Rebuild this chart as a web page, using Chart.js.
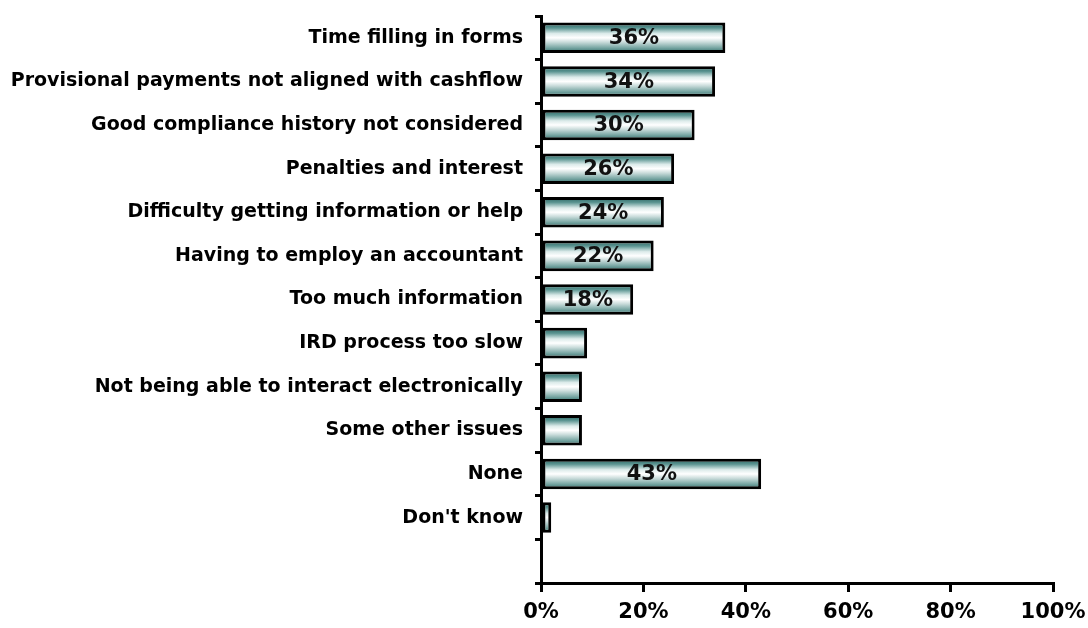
<!DOCTYPE html>
<html lang="en">
<head>
    <meta charset="UTF-8">
    <title>Compliance issues</title>
    <script src="https://cdn.jsdelivr.net/npm/chart.js"></script>
    <style>
        body {
            margin: 0;
            padding: 0;
            background-color: #ffffff;
        }

        .chart-box {
            position: relative;
            width: 1088px;
            height: 628px;
        }
    </style>
</head>
<body>
    <div class="chart-box">
        <canvas id="issuesChart"></canvas>
    </div>

    <script>
        // Survey answers, top to bottom. The last slot is left blank on purpose.
        const categories = [
            'Time filling in forms',
            'Provisional payments not aligned with cashflow',
            'Good compliance history not considered',
            'Penalties and interest',
            'Difficulty getting information or help',
            'Having to employ an accountant',
            'Too much information',
            'IRD process too slow',
            'Not being able to interact electronically',
            'Some other issues',
            'None',
            "Don't know",
            ''
        ];
        const percentages = [36, 34, 30, 26, 24, 22, 18, 9, 8, 8, 43, 2, null];
        const xTicks = [0, 20, 40, 60, 80, 100];

        // bars shorter than this don't get a value label
        const labelMin = 15;
        const fontFamily = '"DejaVu Sans", Verdana, sans-serif';

        // Each bar gets its own vertical teal-white-teal shading
        function barGradient(context) {
            const chart = context.chart;
            const yScale = chart.scales.y;
            if (!yScale || !chart.chartArea) {
                return '#9cc3c0';
            }
            const ds = context.dataset;
            const slot = yScale.height / categories.length;
            const half = slot * ds.barPercentage * ds.categoryPercentage / 2;
            const cy = yScale.getPixelForValue(context.dataIndex);
            const g = chart.ctx.createLinearGradient(0, cy - half, 0, cy + half);
            g.addColorStop(0, '#22605c');
            g.addColorStop(0.18, '#5c9592');
            g.addColorStop(0.36, '#dcebea');
            g.addColorStop(0.5, '#ffffff');
            g.addColorStop(0.64, '#cadcdb');
            g.addColorStop(0.82, '#7ba8a5');
            g.addColorStop(1, '#2c6b67');
            return g;
        }

        // Writes the percentage in the middle of each long enough bar
        const valueLabels = {
            id: 'valueLabels',
            afterDatasetsDraw(chart) {
                const ctx = chart.ctx;
                const meta = chart.getDatasetMeta(0);
                ctx.save();
                ctx.font = 'bold 21px ' + fontFamily;
                ctx.fillStyle = '#111111';
                ctx.textAlign = 'center';
                ctx.textBaseline = 'middle';
                meta.data.forEach((bar, i) => {
                    const v = percentages[i];
                    if (v == null || v < labelMin) return;
                    ctx.fillText(v + '%', (bar.x + bar.base) / 2, bar.y + 1);
                });
                ctx.restore();
            }
        };

        const ctx = document.getElementById('issuesChart').getContext('2d');
        new Chart(ctx, {
            type: 'bar',
            data: {
                labels: categories,
                datasets: [{
                    data: percentages,
                    backgroundColor: barGradient,
                    borderColor: '#000000',
                    borderWidth: 3,
                    borderSkipped: false,
                    barPercentage: 0.7,
                    categoryPercentage: 1
                }]
            },
            options: {
                indexAxis: 'y',
                responsive: true,
                maintainAspectRatio: false,
                animation: false,
                layout: {
                    padding: { top: 16, right: 35, bottom: 0, left: 0 }
                },
                plugins: {
                    legend: { display: false },
                    tooltip: { enabled: false }
                },
                scales: {
                    x: {
                        min: 0,
                        max: 100,
                        afterBuildTicks(scale) {
                            scale.ticks = xTicks.map(v => ({ value: v }));
                        },
                        afterFit(scale) {
                            // the outer padding handles the end labels
                            scale.paddingLeft = 0;
                            scale.paddingRight = 0;
                            scale.height = 45;
                        },
                        ticks: {
                            color: '#000000',
                            font: { family: fontFamily, size: 21, weight: 'bold' },
                            padding: 8,
                            maxRotation: 0,
                            callback: v => v + '%'
                        },
                        grid: {
                            drawOnChartArea: false,
                            color: '#000000',
                            lineWidth: 3,
                            tickLength: 9
                        },
                        border: { color: '#000000', width: 3 }
                    },
                    y: {
                        afterFit(scale) {
                            scale.width = 541;
                            scale.paddingTop = 0;
                            scale.paddingBottom = 0;
                        },
                        ticks: {
                            color: '#000000',
                            font: { family: fontFamily, size: 19, weight: 'bold' },
                            padding: 12
                        },
                        grid: {
                            offset: true,
                            drawOnChartArea: false,
                            color: '#000000',
                            lineWidth: 3,
                            tickLength: 6
                        },
                        border: { color: '#000000', width: 3 }
                    }
                }
            },
            plugins: [valueLabels]
        });
    </script>
</body>
</html>
